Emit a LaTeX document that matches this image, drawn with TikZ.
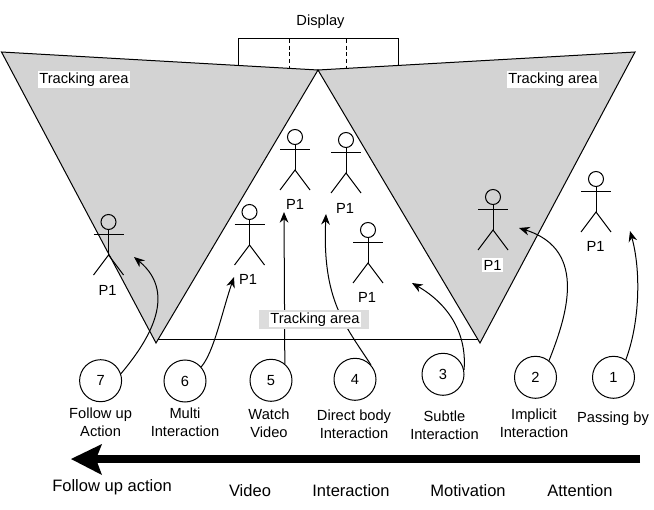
\documentclass[tikz,border=0pt]{standalone}
\usepackage{fontspec}
\setmainfont{Liberation Sans}
\usetikzlibrary{arrows.meta}
\newcommand{\fsmall}{\fontsize{11}{13.5}\selectfont}
\newcommand{\fbig}{\fontsize{12.4}{15}\selectfont}
\tikzset{
  x=0.75pt,y=-0.75pt,
  ln/.style={draw=black,line width=0.75pt},
  zone/.style={ln,fill=zonegrey,line join=miter},
  num/.style={circle,draw=black,line width=0.75pt,minimum size=31.5pt,inner sep=0pt,font=\fsmall},
  lab/.style={align=center,inner sep=0pt,font=\fsmall},
  biglab/.style={inner sep=0pt,font=\fbig},
  whitelab/.style={fill=white,inner sep=1pt,font=\fsmall},
  pone/.style={inner sep=0pt,font=\fsmall},
  flow/.style={ln,-{Stealth[length=8pt,width=6.5pt]}},
  headc/.style={circle,draw=black,line width=0.75pt,minimum size=11.25pt,inner sep=0pt},
  stickman/.pic={
    \node[headc] (-head) at (0,0) {};
    \coordinate (-neck) at (0,33);
    \coordinate (-lf) at (-15,53);
    \coordinate (-rf) at (15,53);
    \coordinate (-la) at (-15,12.5);
    \coordinate (-ra) at (15,12.5);
    \draw[ln] (-head) -- (-neck);
    \draw[ln] (-la) -- (-ra);
    \draw[ln] (-lf) -- (-neck) -- (-rf);
  }
}
\definecolor{zonegrey}{HTML}{D3D3D3}
\definecolor{bargrey}{HTML}{DCDCDC}
\begin{document}
\begin{tikzpicture}
\useasboundingbox[fill=white] (0,0) rectangle (654,510);
% display
\coordinate (dtl) at (238,39);
\coordinate (dtr) at (398,39);
\coordinate (dbl) at (238,67);
\coordinate (dbr) at (398,67);
\draw[ln] (dbl) -- (dtl) -- (dtr) -- (dbr);
\coordinate (d1t) at (289.5,39);
\coordinate (d1b) at (289.5,70);
\coordinate (d2t) at (346.5,39);
\coordinate (d2b) at (346.5,70);
\draw[ln,dashed,dash pattern=on 3pt off 2pt] (d1t) -- (d1b);
\draw[ln,dashed,dash pattern=on 3pt off 2pt] (d2t) -- (d2b);
\node[lab] (display) at (320.5,22) {Display};
% tracking zones
\coordinate (apex) at (318,70);
\coordinate (ltl) at (1.5,52);
\coordinate (lb) at (156,343);
\coordinate (rtr) at (635,52);
\coordinate (rb) at (480,343);
\coordinate (fl) at (156,339.5);
\coordinate (fr) at (480,339.5);
\draw[ln] (fl) -- (fr);
\draw[zone] (ltl) -- (apex) -- (lb) -- cycle;
\draw[zone] (rtr) -- (apex) -- (rb) -- cycle;
\node[whitelab,minimum width=69pt,minimum height=11pt] (tl) at (84,79.5) {Tracking area};
\node[whitelab,minimum width=69pt,minimum height=11pt] (tr) at (553,79.5) {Tracking area};
% people
\pic (pa) at (108.5,222) {stickman};
\pic (pb) at (249.5,212) {stickman};
\pic (pc) at (295,137) {stickman};
\pic (pd) at (346,140) {stickman};
\pic (pe) at (368,230) {stickman};
\pic (pf) at (493,197) {stickman};
\pic (pg) at (596,179) {stickman};
\node[pone] (la) at (107.5,290) {P1};
\node[pone] (lb1) at (248,279) {P1};
\node[pone] (lc) at (295,204) {P1};
\node[pone] (ld) at (345,208) {P1};
\node[pone] (le) at (367,297) {P1};
\node[pone,fill=white,inner sep=1.5pt] (lf) at (492.5,265) {P1};
\node[pone] (lg) at (595.5,246) {P1};
% numbered circles
\node[num] (c7) at (100.6,380.7) {7};
\node[num] (c6) at (185,381) {6};
\node[num] (c5) at (271,380.3) {5};
\node[num] (c4) at (355,379.3) {4};
\node[num] (c3) at (443,374.3) {3};
\node[num] (c2) at (535.5,377.3) {2};
\node[num] (c1) at (613.5,377.3) {1};
% connector tips
\coordinate (t1) at (630,231);
\coordinate (t2) at (519,228);
\coordinate (t3) at (412,283);
\coordinate (t4) at (326,214);
\coordinate (t5) at (284,212);
\coordinate (t6) at (234,277);
\coordinate (t7) at (134,257);
\draw[flow] (c1.55) .. controls (640,322) and (641,270) .. (t1);
\draw[flow] (c2.51) .. controls (565,320) and (590,250) .. (t2);
\draw[flow] (c3.12) .. controls (467,335) and (450,305) .. (t3);
\draw[flow] (c4.42) .. controls (345,325) and (322,300) .. (t4);
\draw[flow] (c5.50) -- (t5);
\draw[flow] (c6.41) .. controls (214,352) and (222,312) .. (t6);
\draw[flow] (c7.19) .. controls (145,345) and (180,295) .. (t7);
% centre tracking label sits over the connectors
\node[fill=bargrey,minimum width=82.5pt,minimum height=14.5pt,inner sep=0pt] (tcbar) at (314,319.5) {};
\node[whitelab,minimum width=69pt,minimum height=11.5pt,inner sep=0pt] (tc) at (315,319.5) {Tracking area};
% step labels
\node[lab] (s7) at (100.6,422) {Follow up\\Action};
\node[lab] (s6) at (185,422) {Multi\\Interaction};
\node[lab] (s5) at (269,423) {Watch\\Video};
\node[lab] (s4) at (354,424) {Direct body\\Interaction};
\node[lab] (s3) at (444.5,425) {Subtle\\Interaction};
\node[lab] (s2) at (534,423) {Implicit\\Interaction};
\node[lab] (s1) at (613,419) {Passing by};
% timeline
\coordinate (tlstart) at (640,459);
\coordinate (tlend) at (90,459);
\coordinate (tip) at (71,459);
\coordinate (hu) at (102,444);
\coordinate (hd) at (102,475);
\coordinate (notch) at (96,459);
\draw[line width=6pt,black] (tlstart) -- (tlend);
\fill[black] (tip) -- (hu) -- (notch) -- (hd) -- cycle;
\node[biglab] (b1) at (112,487.5) {Follow up action};
\node[biglab] (b2) at (250,490.5) {Video};
\node[biglab] (b3) at (351,490.5) {Interaction};
\node[biglab] (b4) at (468,490.5) {Motivation};
\node[biglab] (b5) at (580,490.5) {Attention};
\end{tikzpicture}
\end{document}
